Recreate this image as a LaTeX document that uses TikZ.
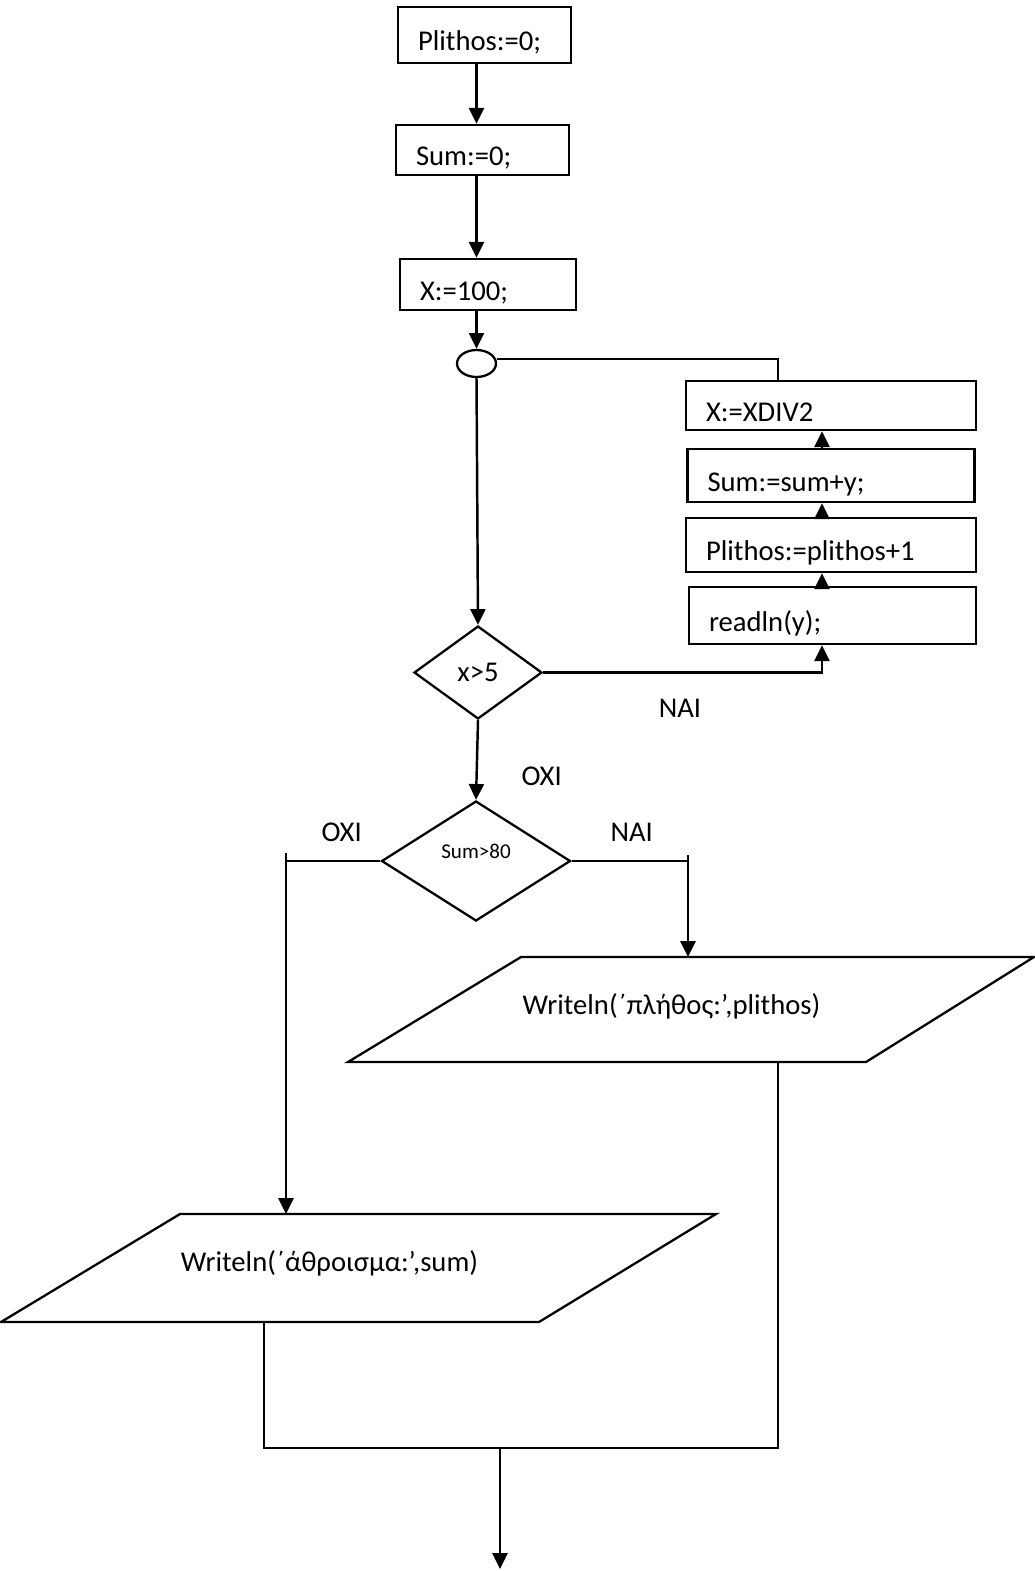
\documentclass[tikz,border=0pt]{standalone}
\usepackage{fontspec}
\setmainfont{Carlito}
\usetikzlibrary{shapes.geometric,arrows.meta}

\begin{document}
\begin{tikzpicture}[x=0.02cm,y=-0.02cm,
    font=\fontsize{16.3}{19.5}\selectfont,
    box/.style={draw,line width=1.4pt,inner xsep=0.4cm,inner ysep=0pt,align=left,
      text height=0.75cm,text depth=0.12cm,minimum height=1cm},
    cond/.style={draw,diamond,line width=1.3pt,inner sep=1pt},
    arr/.style={line width=1.4pt,-{Triangle[length=9pt,width=8.5pt]}},
    link/.style={line width=1pt}]
    \useasboundingbox (0,0) rectangle (1034,1571);
    % Initial values
    \node[box,text width=2.66cm,minimum height=1.12cm] (p0) at (484.5,35) {Plithos:=0;};
    \node[box,text width=2.66cm] (s0) at (482.5,150) {Sum:=0;};
    \node[box,text width=2.72cm,minimum height=1.02cm] (x0) at (488,284.5) {X:=100;};
    \node[draw,ellipse,line width=1.3pt,minimum width=0.78cm,minimum height=0.54cm,inner sep=0pt] (join) at (476.5,363.5) {};
    % Loop body
    \node[box,text width=5cm,minimum height=0.98cm] (xd) at (831,405.5) {X:=XDIV2};
    \node[box,text width=4.94cm,minimum height=1.06cm] (sy) at (831,475.5) {Sum:=sum+y;};
    \node[box,text width=5cm,minimum height=1.08cm] (pl) at (831,545) {Plithos:=plithos+1};
    \node[box,text width=4.94cm,minimum height=1.14cm] (rd) at (832.5,615.5) {readln(y);};
    % Conditions
    \node[cond,minimum width=2.56cm,minimum height=1.86cm] (x5) at (478,672.5) {x>5};
    \node[cond,minimum width=3.78cm,minimum height=2.4cm,font=\fontsize{12}{14}\selectfont] (s80) at (476,861) {\raisebox{0.4cm}{Sum>80}};
    \node (yes1) at (680,708) {NAI};
    \node (no1) at (541.7,776) {OXI};
    \node (no2) at (341.7,832) {OXI};
    \node (yes2) at (631.7,832) {NAI};
    % Output
    \coordinate (o1nw) at (521,957);
    \draw[line width=1.3pt] (o1nw) -- (1034,957) -- (866,1062) -- (348,1062) -- cycle;
    \node (out1) at (671.5,1006) {Writeln(΄πλήθος:’,plithos)};
    \coordinate (o2nw) at (180,1214);
    \draw[line width=1.3pt] (o2nw) -- (716,1214) -- (539,1322) -- (1,1322) -- cycle;
    \node (out2) at (329.5,1263) {Writeln(΄άθροισμα:’,sum)};
    % Connectors
    \draw[arr] (p0.south -| join) -- (s0.north -| join);
    \draw[arr] (s0.south -| join) -- (x0.north -| join);
    \draw[arr] (x0.south -| join) -- (join.north);
    \draw[arr] (join.south) -- (x5.north);
    \draw[arr] (x5.south) -- (s80.north);
    \coordinate (col) at (822,0);
    \draw[arr] (x5.east) -| (rd.south -| col);
    \draw[arr] (rd.north -| col) -- (pl.south -| col);
    \draw[arr] (pl.north -| col) -- (sy.south -| col);
    \draw[arr] (sy.north -| col) -- (xd.south -| col);
    \coordinate (back) at (778,359);
    \draw[link] (xd.north -| back) -- (back) -- (join.east |- back);
    \coordinate (lft) at (286,853);
    \coordinate (rgt) at (688,855);
    \draw[link] (s80.west) -- (s80.west -| lft);
    \draw[arr] (lft) -- (lft |- o2nw);
    \draw[link] (s80.east) -- (s80.east -| rgt);
    \draw[arr] (rgt) -- (rgt |- o1nw);
    \coordinate (o1s) at (778,1062);
    \coordinate (o2s) at (264,1322);
    \coordinate (mrg) at (500,1448);
    \coordinate (stop) at (500,1569);
    \draw[link] (o1s) -- (o1s |- mrg) -- (o2s |- mrg) -- (o2s);
    \draw[arr] (mrg) -- (stop);
\end{tikzpicture}
\end{document}
